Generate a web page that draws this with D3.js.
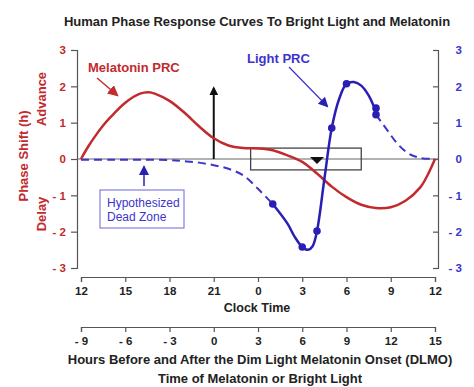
<!DOCTYPE html>
<html>
<head>
<meta charset="utf-8">
<script src="https://cdn.jsdelivr.net/npm/d3@7"></script>
<style>
  body { margin: 0; background: #fff; }
  svg { display: block; font-family: "Liberation Sans", Arial, sans-serif; }
  .axis path, .axis line { stroke: #555; stroke-width: 1.2; }
</style>
</head>
<body>
<div id="chart"></div>
<script>
// Clock time is written as hours 12..36 (36 = noon next day)
const clockTicks = [12, 15, 18, 21, 24, 27, 30, 33, 36];
const dlmoTicks = [-9, -6, -3, 0, 3, 6, 9, 12, 15];
const shiftTicks = [-3, -2, -1, 0, 1, 2, 3];

// Melatonin PRC (red)
const melClock = [12, 12.5, 13, 13.5, 14, 15, 16, 16.6, 17, 18, 19, 20, 21, 22, 23, 24, 25, 26, 27, 28, 29, 30, 31, 32, 33, 34, 35, 35.5, 36];
const melShift = [0, 0.35, 0.65, 0.92, 1.15, 1.55, 1.8, 1.84, 1.8, 1.6, 1.28, 0.9, 0.57, 0.37, 0.3, 0.29, 0.24, 0.1, -0.08, -0.4, -0.76, -1.05, -1.26, -1.35, -1.33, -1.15, -0.78, -0.44, 0];

// Light PRC (blue), measured part
const lightClock = [25, 26, 26.5, 27, 27.4, 27.7, 28, 28.5, 29, 29.5, 30, 30.5, 31, 31.5, 32];
const lightShift = [-1.24, -1.78, -2.15, -2.42, -2.5, -2.4, -1.98, -0.55, 0.85, 1.65, 2.07, 2.12, 2.02, 1.75, 1.3];
const dotClock = [25, 27, 28, 29, 30, 32, 32];
const dotShift = [-1.24, -2.42, -1.98, 0.85, 2.07, 1.4, 1.22];

// Light PRC, hypothesized (dashed)
const deadClock = [12, 14, 16, 18, 19, 20, 21, 22, 23, 24, 25];
const deadShift = [-0.02, -0.02, -0.02, -0.03, -0.06, -0.1, -0.17, -0.27, -0.45, -0.82, -1.24];
const tailClock = [32, 32.75, 33.5, 34.25, 35, 36];
const tailShift = [1.22, 0.8, 0.4, 0.14, 0.03, 0];

const red = "#c22a2e";
const blue = "#2a1fb3";
const blueLight = "#3c34cc";

const width = 474, height = 387;

const svg = d3.select("#chart")
    .append("svg")
    .attr("width", width)
    .attr("height", height);

const x = d3.scaleLinear().domain([12, 36]).range([81, 435]);
const xDlmo = d3.scaleLinear().domain([-9, 15]).range([81, 435]);
const y = d3.scaleLinear().domain([-3, 3]).range([268, 50]);

// arrow markers
const defs = svg.append("defs");
function marker(id, color, size) {
    defs.append("marker")
        .attr("id", id)
        .attr("viewBox", "0 0 10 10")
        .attr("refX", 8).attr("refY", 5)
        .attr("markerWidth", size).attr("markerHeight", size)
        .attr("markerUnits", "userSpaceOnUse")
        .attr("orient", "auto")
        .append("path")
        .attr("d", "M0,0 L10,5 L0,10 z")
        .attr("fill", color);
}
marker("arrRed", red, 11);
marker("arrBlue", blue, 10);
marker("arrBlack", "#111", 9);

// Title
svg.append("text")
    .attr("x", 257).attr("y", 26)
    .attr("text-anchor", "middle")
    .style("font-weight", "bold").style("font-size", "13px")
    .style("fill", "#222")
    .text("Human Phase Response Curves To Bright Light and Melatonin");

const fmtShift = d => d < 0 ? "- " + (-d) : d;

// Left y axis
const leftAxis = svg.append("g")
    .attr("class", "axis")
    .attr("transform", "translate(77,0)")
    .call(d3.axisLeft(y).tickValues(shiftTicks).tickFormat(fmtShift).tickSize(6).tickPadding(5));
leftAxis.selectAll("text")
    .style("fill", red).style("font-weight", "bold").style("font-size", "11.5px");

// Right y axis (ticks point inward)
const rightAxis = svg.append("g")
    .attr("class", "axis")
    .attr("transform", "translate(438,0)")
    .call(d3.axisRight(y).tickValues(shiftTicks).tickFormat(fmtShift).tickSize(-5));
rightAxis.selectAll("text")
    .attr("x", 24).attr("text-anchor", "end")
    .style("fill", blueLight).style("font-weight", "bold").style("font-size", "11.5px");

// Y labels
function vlabel(txt, cx, cy, size) {
    svg.append("text")
        .attr("transform", `translate(${cx},${cy}) rotate(-90)`)
        .attr("text-anchor", "middle")
        .attr("dy", "0.35em")
        .style("fill", red).style("font-weight", "bold").style("font-size", size)
        .text(txt);
}
vlabel("Phase Shift (h)", 23, 156, "13px");
vlabel("Advance", 41, 99, "13px");
vlabel("Delay", 41, 214, "13px");

// Clock axis
const clockAxis = svg.append("g")
    .attr("class", "axis")
    .attr("transform", "translate(0,277)")
    .call(d3.axisBottom(x).tickValues(clockTicks).tickFormat(d => d % 24).tickSize(5).tickPadding(5));
clockAxis.selectAll("text")
    .style("fill", "#222").style("font-weight", "bold").style("font-size", "11.5px");

svg.append("text")
    .attr("x", 257).attr("y", 312)
    .attr("text-anchor", "middle")
    .style("font-weight", "bold").style("font-size", "12.5px").style("fill", "#222")
    .text("Clock Time");

// DLMO axis
const dlmoAxis = svg.append("g")
    .attr("class", "axis")
    .attr("transform", "translate(0,327)")
    .call(d3.axisBottom(xDlmo).tickValues(dlmoTicks).tickFormat(fmtShift).tickSize(5).tickPadding(5));
dlmoAxis.selectAll("text")
    .style("fill", "#222").style("font-weight", "bold").style("font-size", "11.5px");

svg.append("text")
    .attr("x", 260).attr("y", 364)
    .attr("text-anchor", "middle")
    .style("font-weight", "bold").style("font-size", "13px").style("fill", "#222")
    .text("Hours Before and After the Dim Light Melatonin Onset (DLMO)");

svg.append("text")
    .attr("x", 260).attr("y", 383)
    .attr("text-anchor", "middle")
    .style("font-weight", "bold").style("font-size", "13px").style("fill", "#222")
    .text("Time of Melatonin or Bright Light");

// zero line
svg.append("line")
    .attr("x1", 77).attr("x2", 438)
    .attr("y1", y(0)).attr("y2", y(0))
    .attr("stroke", "#666").attr("stroke-width", 1.2);

// sleep box and mid-sleep marker
svg.append("rect")
    .attr("x", x(23.5)).attr("y", y(0.3))
    .attr("width", x(31) - x(23.5)).attr("height", y(-0.3) - y(0.3))
    .attr("fill", "none").attr("stroke", "#444").attr("stroke-width", 1.3);

svg.append("path")
    .attr("d", `M${x(28) - 7},${y(0) - 2} L${x(28) + 7},${y(0) - 2} L${x(28)},${y(0) + 5} Z`)
    .attr("fill", "#111");

// melatonin administration arrow at 21h
svg.append("line")
    .attr("x1", x(21)).attr("x2", x(21))
    .attr("y1", y(0)).attr("y2", y(1.95))
    .attr("stroke", "#111").attr("stroke-width", 2)
    .attr("marker-end", "url(#arrBlack)");

const line = d3.line()
    .x(d => x(d[0]))
    .y(d => y(d[1]))
    .curve(d3.curveCatmullRom.alpha(0.5));

const zip = (a, b) => a.map((v, i) => [v, b[i]]);

// dashed hypothesized parts
svg.append("path")
    .datum(zip(deadClock, deadShift))
    .attr("d", line)
    .attr("fill", "none").attr("stroke", blueLight)
    .attr("stroke-width", 2).attr("stroke-dasharray", "8,5");

svg.append("path")
    .datum(zip(tailClock, tailShift))
    .attr("d", line)
    .attr("fill", "none").attr("stroke", blueLight)
    .attr("stroke-width", 2).attr("stroke-dasharray", "8,5");

// melatonin PRC
svg.append("path")
    .datum(zip(melClock, melShift))
    .attr("d", line)
    .attr("fill", "none").attr("stroke", red)
    .attr("stroke-width", 2.5);

// light PRC
svg.append("path")
    .datum(zip(lightClock, lightShift))
    .attr("d", line)
    .attr("fill", "none").attr("stroke", blue)
    .attr("stroke-width", 2.5);

svg.append("g")
    .selectAll("circle")
    .data(zip(dotClock, dotShift))
    .enter()
    .append("circle")
    .attr("cx", d => x(d[0]))
    .attr("cy", d => y(d[1]))
    .attr("r", 3.8)
    .attr("fill", blue);

// annotations
svg.append("text")
    .attr("x", 88).attr("y", 72)
    .style("fill", red).style("font-weight", "bold").style("font-size", "13px")
    .text("Melatonin PRC");
svg.append("line")
    .attr("x1", 97).attr("y1", 78).attr("x2", 117).attr("y2", 95)
    .attr("stroke", red).attr("stroke-width", 1.5)
    .attr("marker-end", "url(#arrRed)");

svg.append("text")
    .attr("x", 247).attr("y", 63)
    .style("fill", blueLight).style("font-weight", "bold").style("font-size", "13px")
    .text("Light PRC");
svg.append("line")
    .attr("x1", 289).attr("y1", 67).attr("x2", 327).attr("y2", 106)
    .attr("stroke", blueLight).attr("stroke-width", 1.2)
    .attr("marker-end", "url(#arrBlue)");

// dead zone note
svg.append("rect")
    .attr("x", 100).attr("y", 190)
    .attr("width", 84).attr("height", 38)
    .attr("fill", "none").attr("stroke", "#6a66d6").attr("stroke-width", 1);
svg.append("text")
    .attr("x", 107).attr("y", 207)
    .style("fill", blueLight).style("font-size", "12px")
    .text("Hypothesized");
svg.append("text")
    .attr("x", 107).attr("y", 221)
    .style("fill", blueLight).style("font-size", "12px")
    .text("Dead Zone");
svg.append("line")
    .attr("x1", 144).attr("y1", 186).attr("x2", 144).attr("y2", 167)
    .attr("stroke", blue).attr("stroke-width", 1.5)
    .attr("marker-end", "url(#arrBlue)");
</script>
</body>
</html>
